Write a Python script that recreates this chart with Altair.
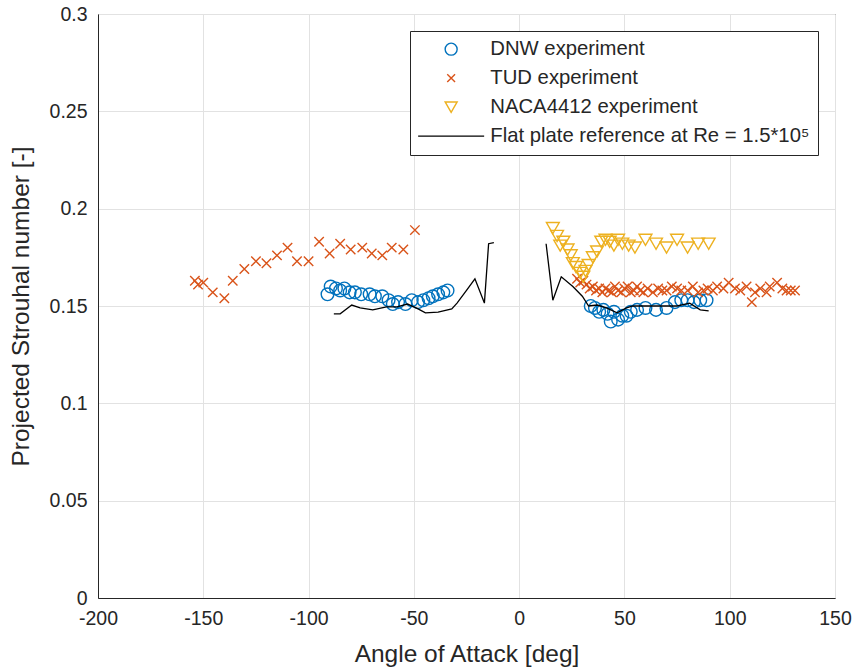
import altair as alt
import pandas as pd

# ---------------- measured Strouhal numbers ----------------
dnw_aoa = [-91, -89.5, -87, -85, -83, -80.5, -78, -75, -71, -68.5, -65, -62, -60,
           -57.5, -54, -51, -48, -45.5, -43, -41, -38.5, -36, -34,
           34, 36, 38, 40, 42, 43.5, 45, 47, 49, 51, 53, 56, 60, 65, 70, 74, 77,
           80, 83, 86, 89]
dnw_st = [0.156, 0.160, 0.159, 0.158, 0.159, 0.157, 0.157, 0.156, 0.156, 0.155,
          0.155, 0.153, 0.151, 0.152, 0.151, 0.153, 0.152, 0.153, 0.154, 0.155,
          0.156, 0.157, 0.158,
          0.150, 0.149, 0.147, 0.148, 0.146, 0.142, 0.147, 0.143, 0.145, 0.145,
          0.147, 0.148, 0.149, 0.148, 0.149, 0.152, 0.153, 0.153, 0.152, 0.153,
          0.153]

tud_aoa = [-154, -152.5, -150, -145.5, -140, -136, -130.5, -125, -120, -115,
           -110, -105.5, -100, -95, -90, -85, -80, -74.5, -70, -65, -60.5, -55,
           -49.5,
           27.5, 29, 30.5, 32, 33.5, 35, 36.5, 38, 39.5, 41, 42.5, 44, 45.5, 47,
           48.5, 50, 51.5, 53, 54.5, 56, 57.5, 59, 61, 63.5, 66, 68, 70, 72.5, 75,
           77, 80, 82.5, 85, 87.5, 89.5, 92, 94, 97, 99.5, 102.5, 105, 108, 110.5,
           112, 114.5, 117.5, 119, 122.5, 125, 127, 129, 131]
tud_st = [0.163, 0.161, 0.162, 0.157, 0.154, 0.163, 0.169, 0.173, 0.172, 0.176,
          0.180, 0.173, 0.173, 0.183, 0.177, 0.182, 0.179, 0.180, 0.177, 0.176,
          0.180, 0.179, 0.189,
          0.164, 0.162, 0.163, 0.161, 0.159, 0.160, 0.158, 0.159, 0.157, 0.159,
          0.158, 0.157, 0.160, 0.158, 0.157, 0.159, 0.160, 0.157, 0.158, 0.160,
          0.158, 0.157, 0.159, 0.157, 0.159, 0.158, 0.158, 0.160, 0.159, 0.158,
          0.158, 0.160, 0.157, 0.158, 0.159, 0.158, 0.160, 0.159, 0.162, 0.159,
          0.158, 0.160, 0.152, 0.157, 0.159, 0.157, 0.160, 0.162, 0.159, 0.158,
          0.158, 0.158]

naca_aoa = [16, 18, 19.5, 21, 23, 24.5, 25.5, 27, 29, 30.5, 31.5, 33, 35, 37, 39,
            41, 43, 45, 47, 49, 52, 55, 60, 65, 70, 75, 80, 85, 90]
naca_st = [0.190, 0.186, 0.181, 0.183, 0.179, 0.176, 0.172, 0.170, 0.167, 0.165,
           0.168, 0.171, 0.175, 0.178, 0.183, 0.184, 0.183, 0.181, 0.184, 0.182,
           0.181, 0.180, 0.184, 0.182, 0.180, 0.184, 0.180, 0.182, 0.182]

# flat plate reference, negative and positive angle branches
plate_neg_aoa = [-88, -85, -79.5, -75.5, -69.5, -63, -58, -53, -48, -44.5, -38.5,
                 -32, -29.5, -25, -21, -16.5, -14.5, -12]
plate_neg_st = [0.146, 0.146, 0.1505, 0.149, 0.148, 0.1495, 0.1495, 0.151,
                0.1485, 0.1465, 0.1469, 0.1485, 0.1515, 0.158, 0.164, 0.1515,
                0.182, 0.1825]
plate_pos_aoa = [12.8, 16, 20, 25.5, 30, 33, 37, 41.5, 46.5, 51, 54, 60.5, 67,
                 75, 81, 86, 90]
plate_pos_st = [0.182, 0.153, 0.165, 0.160, 0.155, 0.150, 0.1505, 0.149, 0.1465,
                0.149, 0.150, 0.150, 0.150, 0.150, 0.1515, 0.148, 0.1475]

series_names = ["DNW experiment", "TUD experiment", "NACA4412 experiment",
                "Flat plate reference at Re = 1.5*10\u2075"]
series_colors = ["#0072BD", "#D95319", "#EDB120", "#000000"]
series_shapes = ["circle",
                 "M-0.65,-0.65L0.65,0.65M-0.65,0.65L0.65,-0.65",
                 "triangle-down",
                 "M-5.5,0H5.5"]

x_ticks = [-200, -150, -100, -50, 0, 50, 100, 150]
y_ticks = [0, 0.05, 0.1, 0.15, 0.2, 0.25, 0.3]

# ---------------- tables ----------------
dnw_df = pd.DataFrame({"aoa": dnw_aoa, "st": dnw_st, "series": series_names[0]})
tud_df = pd.DataFrame({"aoa": tud_aoa, "st": tud_st, "series": series_names[1]})
naca_df = pd.DataFrame({"aoa": naca_aoa, "st": naca_st, "series": series_names[2]})
plate_df = pd.concat([
    pd.DataFrame({"aoa": plate_neg_aoa, "st": plate_neg_st, "seg": "neg"}),
    pd.DataFrame({"aoa": plate_pos_aoa, "st": plate_pos_st, "seg": "pos"}),
])

FONT = "Liberation Sans"
INK = "#262626"

x_axis = alt.Axis(values=x_ticks, grid=True, ticks=False, tickSize=0,
                  labelFlush=False,
                  labelExpr="replace(datum.label, '\u2212', '-')",
                  labelPadding=11, labelFontSize=19.5,
                  title="Angle of Attack [deg]", titleFontSize=24.5,
                  titleX=368.5, titleY=63, titleBaseline="alphabetic")
y_axis = alt.Axis(values=y_ticks, grid=True, ticks=False, tickSize=0,
                  labelFlush=False,
                  labelExpr="toString(datum.value)",
                  labelPadding=11, labelFontSize=19.5,
                  title="Projected Strouhal number [-]", titleFontSize=24.5,
                  titleX=-70, titleY=292, titleAngle=270,
                  titleBaseline="alphabetic")

x_enc = alt.X("aoa:Q", scale=alt.Scale(domain=[-200, 150], nice=False, zero=False),
              axis=x_axis)
y_enc = alt.Y("st:Q", scale=alt.Scale(domain=[0, 0.3], nice=False), axis=y_axis)

legend = alt.Legend(title=None, orient="top-right", offset=17, padding=8,
                    strokeColor=INK, fillColor="white", symbolSize=144,
                    symbolStrokeWidth=1.4, labelFont=FONT, labelFontSize=20.3,
                    labelColor=INK, labelLimit=600, rowPadding=8,
                    symbolOffset=23, labelOffset=29)
color_enc = alt.Color("series:N",
                      scale=alt.Scale(domain=series_names, range=series_colors),
                      legend=legend)
shape_enc = alt.Shape("series:N",
                      scale=alt.Scale(domain=series_names, range=series_shapes),
                      legend=legend)


def marker_layer(df, size):
    return alt.Chart(df).mark_point(filled=False, size=size, strokeWidth=1.4,
                                    opacity=1).encode(
        x=x_enc, y=y_enc, color=color_enc, shape=shape_enc)


dnw = marker_layer(dnw_df, 160)
tud = marker_layer(tud_df, 210)
naca = marker_layer(naca_df, 165)

plate = alt.Chart(plate_df).mark_line(color="black", strokeWidth=1.3).encode(
    x=x_enc, y=y_enc, detail="seg:N")

chart = alt.layer(dnw, tud, naca, plate).properties(
    width=737, height=584,
    autosize=alt.AutoSizeParams(type="none"),
    padding={"left": 98, "top": 14, "right": 21, "bottom": 73},
    background="white",
).configure_view(
    stroke=INK, strokeWidth=1
).configure_axis(
    labelFont=FONT, titleFont=FONT, labelColor=INK, titleColor=INK,
    titleFontWeight="normal", domainColor=INK, domainWidth=1,
    gridColor="#e2e2e2", gridWidth=1
)

chart.save("out.html", embed_options={"renderer": "svg", "actions": False})
